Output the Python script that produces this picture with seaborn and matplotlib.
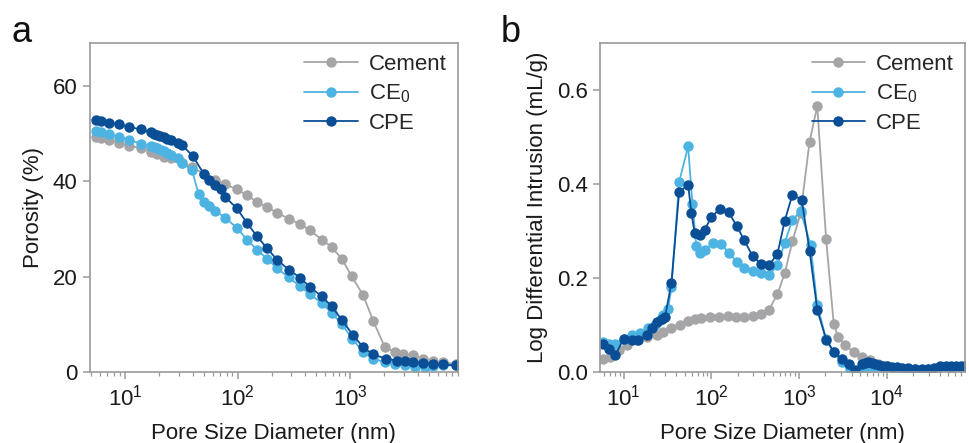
import numpy as np
import pandas as pd
import matplotlib
matplotlib.use("Agg")
import matplotlib.pyplot as plt
import seaborn as sns
from matplotlib.ticker import LogLocator, NullFormatter

sns.set_style("ticks")
plt.rcParams["font.family"] = ["Liberation Sans", "DejaVu Sans"]
plt.rcParams["mathtext.default"] = "regular"

# ---------------- Panel a: cumulative porosity ----------------
a_cement_x = [5.5, 6.1, 7.2, 8.9, 10.8, 13.8, 16.9, 19.3, 22.1, 25.4, 32.1, 39.4, 50, 63.4,
              77.8, 98.6, 121, 148, 182, 223, 283, 359, 440, 557, 684, 838, 1028, 1303,
              1599, 2028, 2485, 2944, 3612, 4428, 5430, 6655, 8730]
a_cement_y = [49.2, 49.0, 48.7, 48.0, 47.4, 47.0, 46.2, 45.7, 45.1, 44.8, 43.9, 43.0, 41.6, 40.2,
              39.4, 38.3, 37.1, 35.7, 34.6, 33.4, 32.2, 31.0, 29.7, 27.8, 26.2, 23.8, 20.1, 16.1,
              10.7, 5.2, 4.2, 3.8, 3.5, 2.8, 2.4, 2.1, 1.7]

a_ce0_x = [5.5, 6.1, 7.2, 8.9, 10.8, 13.8, 16.9, 18.0, 19.3, 21.0, 22.1, 23.7, 25.4, 29.5,
           32.1, 39.4, 45.0, 50.0, 56.0, 63.4, 77.8, 98.6, 121, 148, 182, 223, 283, 359,
           440, 557, 684, 838, 1040, 1303, 1599, 2028, 2485, 3050, 3750, 4600, 5430, 6655, 8730]
a_ce0_y = [50.5, 50.3, 49.9, 49.3, 48.7, 47.9, 47.4, 47.2, 46.9, 46.6, 46.3, 45.9, 45.5, 44.8,
           43.8, 42.4, 37.3, 35.7, 34.8, 33.7, 32.4, 30.2, 27.8, 25.7, 23.8, 21.8, 19.9, 18.0,
           16.3, 14.5, 12.4, 10.1, 7.0, 4.2, 2.8, 2.1, 1.7, 1.4, 1.0, 1.0, 1.3, 1.4, 1.4]

a_cpe_x = [5.5, 6.1, 7.2, 8.9, 10.8, 13.8, 16.9, 18.0, 19.3, 20.5, 22.1, 23.7, 25.4, 29.5,
           32.1, 40.0, 50.0, 56.0, 63.4, 70.5, 77.8, 98.6, 121, 148, 182, 223, 283, 359,
           440, 557, 684, 838, 1060, 1303, 1599, 2080, 2600, 3050, 3612, 4428, 5430, 6655, 8730]
a_cpe_y = [52.8, 52.6, 52.3, 52.0, 51.4, 50.9, 50.3, 50.0, 49.8, 49.5, 49.2, 48.9, 48.6, 48.0,
           47.6, 45.3, 41.6, 40.2, 39.2, 38.3, 36.7, 34.3, 31.3, 28.5, 26.0, 23.6, 21.5, 19.8,
           17.8, 15.9, 13.8, 11.0, 7.7, 5.2, 3.7, 2.8, 2.4, 2.3, 2.1, 2.0, 1.7, 1.6, 1.4]

# ---------------- Panel b: log differential intrusion ----------------
b_cement_x = [5.9, 7.1, 8.8, 10.9, 14.2, 18.4, 23.8, 28.4, 35.2, 43.8, 54.5, 64.8, 77.1, 95.8,
              124, 154, 192, 238, 296, 368, 457, 568, 688, 841, 1045, 1321, 1615, 2039, 2489,
              2786, 3373, 4195, 5214, 6477, 8048, 10000]
b_cement_y = [0.028, 0.033, 0.046, 0.057, 0.068, 0.075, 0.080, 0.085, 0.093, 0.100, 0.109, 0.114,
              0.116, 0.117, 0.117, 0.119, 0.117, 0.117, 0.119, 0.123, 0.133, 0.166, 0.210, 0.278,
              0.338, 0.490, 0.566, 0.283, 0.103, 0.075, 0.057, 0.043, 0.033, 0.025, 0.018, 0.014]

b_ce0_x = [5.9, 6.8, 8.1, 10.0, 12.4, 15.4, 19.2, 22.8, 26.0, 28.4, 32.3, 35.2, 43.0, 54.5,
           61.0, 67.6, 75.0, 84.0, 106, 130, 158, 195, 238, 296, 368, 457, 568, 688, 841,
           1045, 1355, 1615, 2039, 2489, 3097, 3848, 4780, 5940, 7385, 9000, 11400, 14800,
           20900, 29600, 40200, 54500, 70600]
b_ce0_y = [0.064, 0.060, 0.060, 0.071, 0.080, 0.083, 0.093, 0.100, 0.110, 0.121, 0.135, 0.180,
           0.404, 0.480, 0.358, 0.268, 0.254, 0.260, 0.274, 0.273, 0.254, 0.235, 0.221, 0.216,
           0.211, 0.206, 0.228, 0.275, 0.324, 0.342, 0.271, 0.142, 0.071, 0.043, 0.021, 0.007,
           0.005, 0.009, 0.011, 0.009, 0.008, 0.007, 0.006, 0.006, 0.010, 0.009, 0.010]

b_cpe_x = [5.9, 6.8, 8.1, 10.0, 12.4, 14.8, 18.4, 20.9, 23.8, 27.2, 29.7, 35.2, 43.0, 54.5,
           59.4, 64.8, 73.8, 84.0, 100, 126, 158, 195, 238, 296, 368, 457, 568, 688, 841,
           1072, 1321, 1615, 2039, 2489, 3097, 3681, 4385, 5214, 5700, 6194, 6800, 7385, 8200,
           9160, 10200, 11400, 13000, 14800, 17500, 20900, 25000, 29600, 35000, 40200, 47000,
           54500, 62000, 70600, 78000]
b_cpe_y = [0.060, 0.050, 0.036, 0.071, 0.068, 0.068, 0.078, 0.093, 0.107, 0.114, 0.117, 0.190,
           0.382, 0.399, 0.338, 0.295, 0.292, 0.302, 0.330, 0.347, 0.340, 0.311, 0.280, 0.247,
           0.230, 0.228, 0.251, 0.322, 0.377, 0.367, 0.258, 0.133, 0.069, 0.043, 0.028, 0.018,
           0.004, 0.018, 0.020, 0.021, 0.020, 0.018, 0.016, 0.014, 0.012, 0.011, 0.010, 0.009,
           0.008, 0.007, 0.007, 0.007, 0.008, 0.014, 0.013, 0.012, 0.013, 0.014, 0.012]

labels = ["Cement", "CE$_0$", "CPE"]
colors = ["#a5a5a7", "#4db3e2", "#0a4e96"]

fig = plt.figure(figsize=(9.7, 4.43), dpi=100)
ax_a = fig.add_axes([0.0928, 0.160, 0.3792, 0.743])
ax_b = fig.add_axes([0.6186, 0.160, 0.3762, 0.743])

spine_col = "#9a9a9a"

def draw(ax, series, xlim, ylim, yticks, ylabel, yfmt):
    for (x, y), lab, c in zip(series, labels, colors):
        df = pd.DataFrame({"x": x, "y": y})
        sns.lineplot(data=df, x="x", y="y", ax=ax, color=c, marker="o", markersize=7.5,
                     markeredgewidth=0, linewidth=1.3, sort=False, label=lab)
    ax.set_xscale("log")
    ax.set_xlim(*xlim)
    ax.set_ylim(*ylim)
    ax.set_yticks(yticks)
    ax.set_yticklabels([yfmt(v) for v in yticks])
    ax.xaxis.set_major_locator(LogLocator(base=10, numticks=10))
    ax.xaxis.set_minor_locator(LogLocator(base=10, subs=np.arange(2, 10), numticks=100))
    ax.xaxis.set_minor_formatter(NullFormatter())
    for s in ax.spines.values():
        s.set_color(spine_col)
        s.set_linewidth(1.2)
    ax.tick_params(axis="both", which="major", direction="out", length=5, width=1.1,
                   color=spine_col, labelsize=16, labelcolor="#1a1a1a", pad=4)
    ax.tick_params(axis="x", which="minor", direction="out", length=3, width=0.9,
                   color=spine_col)
    ax.set_xlabel("Pore Size Diameter (nm)", fontsize=16, color="#1a1a1a", labelpad=9)
    ax.set_ylabel(ylabel, fontsize=16, color="#1a1a1a", labelpad=6)
    ax.legend(loc="upper right", frameon=False, fontsize=16, handlelength=2.4,
              handletextpad=0.5, labelspacing=0.35, borderaxespad=0.2, borderpad=0.3)

draw(ax_a, [(a_cement_x, a_cement_y), (a_ce0_x, a_ce0_y), (a_cpe_x, a_cpe_y)],
     (4.9, 9000), (0, 69), [0, 20, 40, 60], "Porosity (%)", lambda v: f"{v:d}")
draw(ax_b, [(b_cement_x, b_cement_y), (b_ce0_x, b_ce0_y), (b_cpe_x, b_cpe_y)],
     (5.4, 78000), (0, 0.70), [0.0, 0.2, 0.4, 0.6], "Log Differential Intrusion (mL/g)",
     lambda v: f"{v:.1f}")

fig.text(0.012, 0.905, "a", fontsize=26, color="#111111")
fig.text(0.516, 0.905, "b", fontsize=26, color="#111111")

fig.savefig("out.png", dpi=100)
